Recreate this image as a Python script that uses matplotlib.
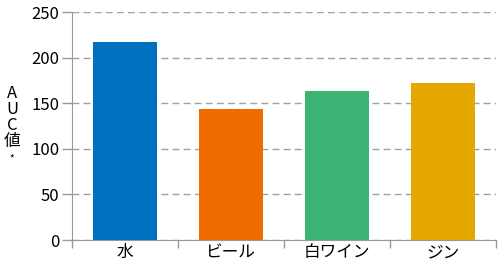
import matplotlib.pyplot as plt
from matplotlib.ticker import FixedLocator

plt.rcParams['font.family'] = ['Noto Sans CJK JP', 'DejaVu Sans']

CATEGORIES = ["水", "ビール", "白ワイン", "ジン"]
AUC = [217, 144, 163, 172]
COLORS = ["#0070C0", "#EE6C00", "#3DB473", "#E5A800"]
YTICKS = [0, 50, 100, 150, 200, 250]

fig = plt.figure(figsize=(5, 2.67), dpi=100)
ax = fig.add_axes([0.144, 0.101, 0.848, 0.854])

x = range(len(CATEGORIES))
ax.bar(x, AUC, width=0.61, color=COLORS, zorder=3)

ax.set_xlim(-0.5, len(CATEGORIES) - 0.5)
ax.set_ylim(0, 250)
ax.set_yticks(YTICKS)
ax.set_xticks(list(x))
ax.set_xticklabels(CATEGORIES, fontsize=12)
ax.xaxis.set_minor_locator(FixedLocator([i - 0.5 for i in range(len(CATEGORIES) + 1)]))

ax.tick_params(axis="x", which="major", length=0, pad=3)
ax.tick_params(axis="x", which="minor", length=6, color="#999999", width=1)
ax.tick_params(axis="y", length=7, color="#999999", width=1, labelsize=12, pad=2)

for s in ["top", "right"]:
    ax.spines[s].set_visible(False)
for s in ["left", "bottom"]:
    ax.spines[s].set_color("#999999")

ax.yaxis.grid(True, linestyle=(0, (5, 3)), color="#A0A0A0", linewidth=1, zorder=0)
ax.set_axisbelow(True)

fig.text(0.024, 0.56, "A\nU\nC\n値", fontsize=12, ha="center", va="center",
         linespacing=0.9)
fig.text(0.024, 0.405, "*", fontsize=7, ha="center", va="center")

plt.savefig("out.png", dpi=100)
plt.close()
